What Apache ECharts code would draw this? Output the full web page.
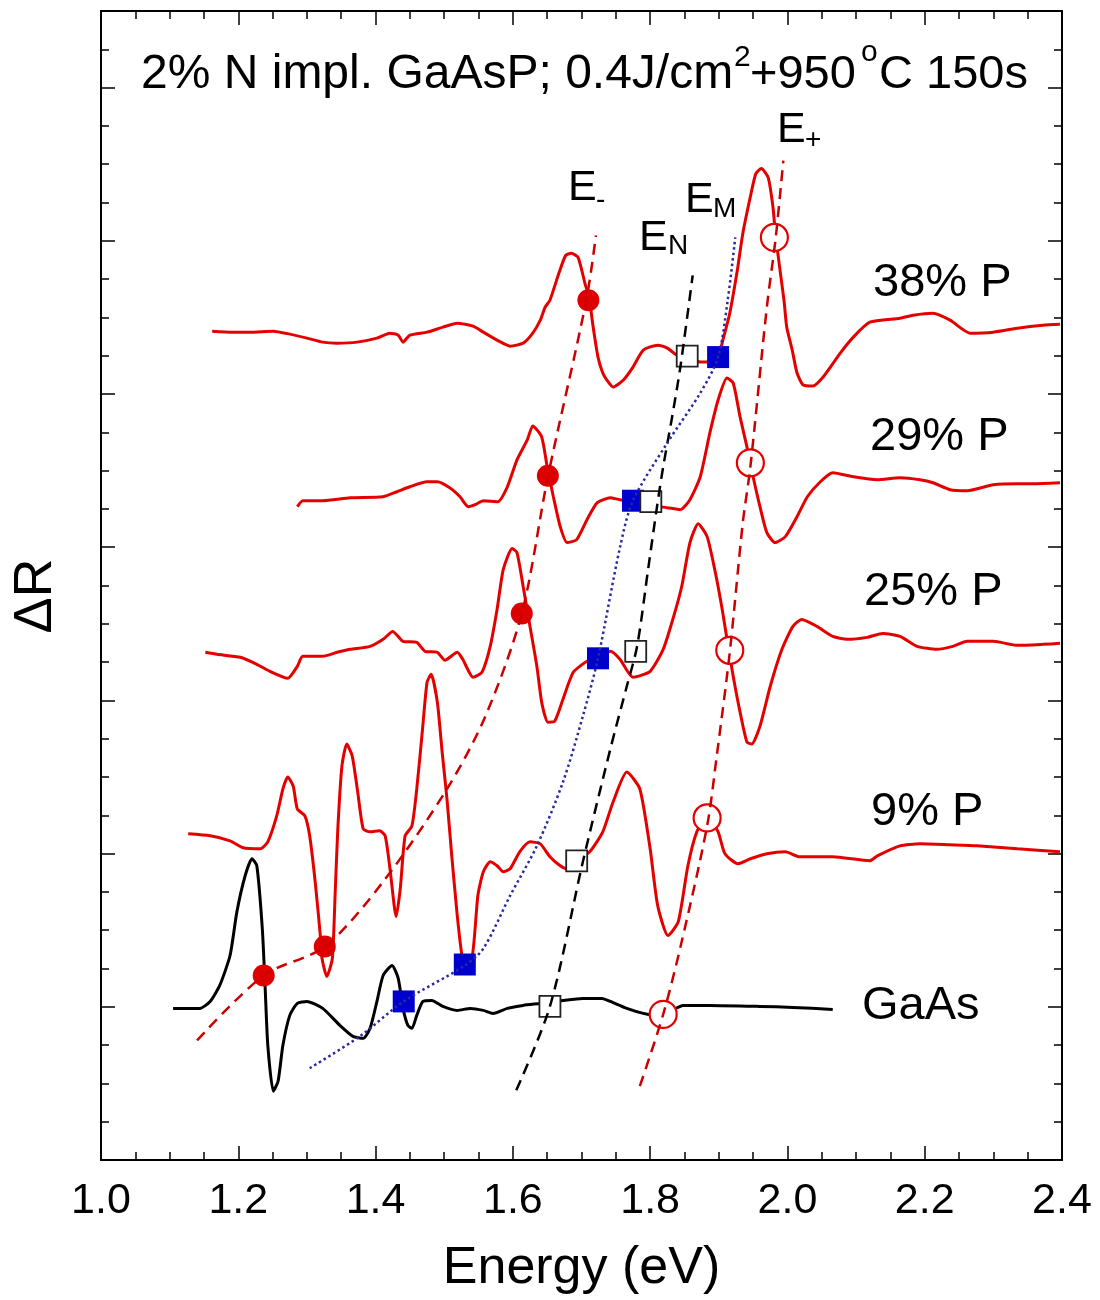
<!DOCTYPE html>
<html><head><meta charset="utf-8">
<script src="https://cdn.jsdelivr.net/npm/echarts@6/dist/echarts.min.js"></script>
<style>html,body{margin:0;padding:0;background:#fff}#c{width:1100px;height:1300px}</style>
</head><body><div id="c"></div>
<script>
const FONT = '"Liberation Sans", Arial, sans-serif';

// Energy (eV) vs ΔR (arbitrary units, curves vertically offset)
const gaas = [[1.105,15.2],[1.144,15.2],[1.159,15.9],[1.173,17.5],[1.188,20.5],[1.198,24.9],[1.210,28.5],[1.220,30.2],[1.227,29.5],[1.235,23.2],[1.239,17.5],[1.243,11.5],[1.251,6.9],[1.258,7.9],[1.265,11.5],[1.275,14.5],[1.286,15.7],[1.300,15.9],[1.323,15.2],[1.348,13.5],[1.367,12.4],[1.382,12.2],[1.392,13.2],[1.402,15.9],[1.411,18.5],[1.424,19.5],[1.433,18.2],[1.440,15.2],[1.447,13.5],[1.453,13.2],[1.460,14.5],[1.469,15.9],[1.482,16.0],[1.498,15.4],[1.519,15.0],[1.538,15.2],[1.557,15.0],[1.571,14.7],[1.592,15.2],[1.615,15.5],[1.640,15.7],[1.673,16.0],[1.702,16.2],[1.730,16.2],[1.742,15.9],[1.766,15.2],[1.790,14.7],[1.810,14.5],[1.829,14.9],[1.848,15.5],[1.887,15.5],[1.960,15.4],[2.008,15.3],[2.066,15.1]];
const p9 = [[1.127,32.7],[1.159,32.5],[1.188,32.0],[1.207,31.3],[1.232,31.2],[1.243,31.9],[1.256,34.5],[1.265,37.2],[1.272,38.4],[1.280,37.5],[1.286,35.2],[1.297,34.5],[1.304,32.5],[1.312,27.9],[1.319,22.9],[1.322,20.2],[1.329,18.4],[1.337,20.2],[1.341,26.5],[1.345,33.2],[1.351,39.5],[1.358,41.7],[1.366,40.5],[1.374,36.9],[1.382,33.2],[1.392,32.9],[1.406,33.0],[1.414,32.5],[1.421,29.2],[1.430,24.4],[1.436,27.2],[1.443,32.5],[1.453,33.5],[1.460,37.2],[1.468,42.9],[1.475,47.9],[1.481,48.7],[1.490,45.9],[1.497,40.9],[1.504,36.2],[1.511,30.5],[1.519,24.5],[1.526,20.4],[1.530,19.6],[1.541,20.5],[1.549,26.5],[1.557,28.9],[1.567,29.9],[1.577,29.5],[1.586,28.9],[1.596,29.2],[1.610,30.9],[1.625,31.9],[1.640,31.7],[1.654,30.4],[1.669,29.5],[1.679,29.2],[1.693,30.0],[1.712,30.9],[1.731,32.9],[1.746,35.9],[1.766,38.9],[1.785,37.2],[1.800,31.2],[1.811,25.5],[1.826,22.5],[1.841,23.9],[1.855,29.5],[1.868,32.9],[1.884,34.4],[1.899,32.9],[1.909,30.7],[1.928,29.7],[1.946,30.2],[1.970,30.7],[1.997,30.9],[2.018,30.4],[2.066,30.4],[2.120,30.0],[2.131,30.5],[2.164,31.5],[2.193,31.7],[2.237,31.6],[2.276,31.5],[2.335,31.2],[2.397,30.9]];
const p25 = [[1.152,50.9],[1.169,50.7],[1.203,50.4],[1.227,49.7],[1.246,49.0],[1.272,48.3],[1.286,49.5],[1.294,50.5],[1.323,50.5],[1.344,50.9],[1.363,51.2],[1.392,51.5],[1.411,52.2],[1.425,53.0],[1.440,52.0],[1.460,51.9],[1.472,51.0],[1.490,50.9],[1.501,50.1],[1.519,50.9],[1.527,50.2],[1.542,48.4],[1.555,48.9],[1.567,51.5],[1.577,55.2],[1.586,59.2],[1.599,61.3],[1.606,60.9],[1.615,57.5],[1.625,53.5],[1.635,49.5],[1.642,45.9],[1.651,43.9],[1.661,44.0],[1.673,46.2],[1.688,48.9],[1.708,50.0],[1.724,50.3],[1.742,51.0],[1.756,50.2],[1.775,48.4],[1.800,49.0],[1.819,51.2],[1.833,54.2],[1.846,57.5],[1.858,61.9],[1.870,63.8],[1.883,62.5],[1.895,58.9],[1.905,55.2],[1.912,52.2],[1.921,48.5],[1.931,44.9],[1.941,41.9],[1.948,41.7],[1.960,43.5],[1.975,47.5],[1.992,51.2],[2.008,53.5],[2.021,54.2],[2.043,53.5],[2.066,52.5],[2.087,52.2],[2.116,52.4],[2.139,52.8],[2.164,52.5],[2.189,51.5],[2.218,51.2],[2.241,51.5],[2.262,52.0],[2.300,52.0],[2.335,51.6],[2.372,51.7],[2.397,51.8]];
const p29 = [[1.286,65.5],[1.294,66.1],[1.323,66.1],[1.363,66.4],[1.411,66.5],[1.431,67.0],[1.450,67.5],[1.475,68.0],[1.490,68.0],[1.508,67.4],[1.523,66.5],[1.535,65.5],[1.545,65.7],[1.557,66.1],[1.578,66.0],[1.592,67.5],[1.606,70.2],[1.621,72.2],[1.629,73.6],[1.642,72.5],[1.650,69.5],[1.659,66.5],[1.669,63.5],[1.679,61.9],[1.693,62.2],[1.708,64.2],[1.723,65.9],[1.742,66.4],[1.756,66.2],[1.775,66.1],[1.793,65.7],[1.825,65.4],[1.844,65.2],[1.858,66.2],[1.873,68.5],[1.887,72.9],[1.899,76.2],[1.912,78.4],[1.921,77.9],[1.931,74.5],[1.941,71.5],[1.950,68.5],[1.960,65.5],[1.970,62.9],[1.982,61.9],[1.997,62.5],[2.014,64.5],[2.029,66.5],[2.048,68.0],[2.066,68.9],[2.096,68.5],[2.131,68.2],[2.164,68.4],[2.193,68.2],[2.212,67.9],[2.237,67.2],[2.262,67.1],[2.300,67.7],[2.335,67.8],[2.358,67.8],[2.397,67.9]];
const p38 = [[1.162,83.1],[1.192,83.0],[1.217,83.0],[1.251,83.1],[1.275,82.8],[1.300,82.4],[1.323,82.0],[1.344,81.9],[1.373,82.0],[1.402,82.4],[1.421,82.9],[1.433,82.7],[1.440,82.0],[1.450,82.7],[1.475,83.0],[1.498,83.5],[1.519,83.9],[1.542,83.6],[1.557,83.0],[1.577,82.2],[1.596,81.6],[1.615,81.9],[1.629,82.9],[1.640,84.2],[1.647,85.5],[1.654,86.2],[1.667,88.9],[1.677,90.7],[1.685,90.9],[1.695,90.5],[1.705,87.9],[1.711,86.5],[1.717,83.5],[1.724,80.5],[1.731,78.9],[1.737,78.2],[1.746,77.5],[1.761,78.2],[1.775,79.5],[1.790,81.2],[1.811,81.7],[1.825,81.4],[1.839,80.7],[1.854,80.6],[1.873,80.0],[1.887,80.0],[1.899,80.5],[1.906,82.2],[1.916,84.9],[1.927,89.2],[1.935,92.9],[1.947,96.9],[1.954,98.9],[1.962,99.4],[1.972,98.5],[1.979,95.5],[1.983,92.5],[1.995,86.2],[1.999,83.5],[2.007,81.2],[2.014,78.9],[2.023,77.7],[2.037,77.6],[2.052,78.5],[2.077,80.9],[2.096,82.5],[2.120,84.0],[2.164,84.4],[2.183,84.7],[2.212,84.9],[2.237,84.2],[2.266,82.9],[2.300,83.0],[2.335,83.4],[2.372,83.7],[2.397,83.8]];

// transition energies (markers)
const eMinusPts = [[1.237,18.5],[1.326,21.4],[1.613,54.8],[1.651,68.6],[1.710,86.2]];
const eMPts = [[1.441,15.9],[1.530,19.6],[1.724,50.3],[1.775,66.1],[1.899,80.5]];
const eNPts = [[1.654,15.4],[1.693,30.0],[1.779,51.0],[1.801,66.0],[1.854,80.6]];
const ePlusPts = [[1.819,14.6],[1.883,34.3],[1.916,51.1],[1.946,69.9],[1.981,92.5]];

// guide lines
const eMinusFit = [[1.140,12.0],[1.237,18.5],[1.326,21.4],[1.411,27.9],[1.504,37.2],[1.560,44.5],[1.613,54.8],[1.651,68.5],[1.707,86.2],[1.721,92.7]];
const eNFit = [[1.605,7.0],[1.654,15.4],[1.702,29.9],[1.742,41.2],[1.766,47.5],[1.781,51.5],[1.797,59.2],[1.810,65.5],[1.819,69.5],[1.832,74.5],[1.844,79.5],[1.862,88.7]];
const eMFit = [[1.304,9.2],[1.377,12.4],[1.441,15.9],[1.530,19.5],[1.557,21.2],[1.596,26.5],[1.635,31.5],[1.673,37.9],[1.702,44.5],[1.724,50.3],[1.756,61.4],[1.775,66.1],[1.825,71.9],[1.873,76.9],[1.899,80.5],[1.913,86.2],[1.924,92.5]];
const ePlusFit = [[1.785,7.4],[1.819,14.6],[1.846,21.9],[1.883,33.5],[1.897,40.5],[1.916,50.9],[1.935,63.9],[1.946,69.5],[1.970,85.5],[1.983,92.5],[1.994,100.2]];

const curveNames = ['GaAs','9% P','25% P','29% P','38% P'];
const xMin = 1.0, xMax = 2.4, xStep = 0.2;
const yMin = 0, yMax = 115.2, yMajor = 15.36, yMinor = 3.84;

const RED = '#e50000', DRED = '#cc0000', BLUE = '#0000cc', DBLUE = '#2a2aa0';

const chart = echarts.init(document.getElementById('c'), null, {renderer:'canvas'});

function xAx(pos, showLabel) {
  return {
    type:'value', min:xMin, max:xMax, interval:xStep, position:pos,
    axisLine:{onZero:false, lineStyle:{color:'#000', width:2}},
    axisTick:{inside:true, length:14, lineStyle:{color:'#000', width:1.5}},
    minorTick:{show:true, splitNumber:4, length:8, lineStyle:{color:'#000', width:1.5}},
    splitLine:{show:false}, minorSplitLine:{show:false},
    axisLabel:{show:showLabel, fontSize:43, fontFamily:FONT, color:'#000', margin:20,
      formatter:v=>v.toFixed(1)},
    name: showLabel ? 'Energy (eV)' : '', nameLocation:'middle', nameGap:83,
    nameTextStyle:{fontSize:52, fontFamily:FONT, color:'#000'}
  };
}
function yAx(pos, step, len) {
  return {
    type:'value', min:yMin, max:yMax, interval:step, position:pos,
    axisLine:{onZero:false, lineStyle:{color:'#000', width:2}},
    axisTick:{inside:true, length:len, lineStyle:{color:'#000', width:1.5}},
    axisLabel:{show:false}, splitLine:{show:false}
  };
}

function curve(data, color) {
  return {type:'line', data, xAxisIndex:0, yAxisIndex:0, showSymbol:false, symbol:'none', smooth:0.2,
    lineStyle:{color, width:3}, z:2, animation:false, silent:true};
}
function fit(data, color, dash, width) {
  return {type:'line', data, xAxisIndex:0, yAxisIndex:0, showSymbol:false, symbol:'none', smooth:0.3,
    lineStyle:{color, width, type:dash}, z:5, animation:false, silent:true};
}
function marks(data, symbol, size, style) {
  return {type:'scatter', data, symbol, symbolSize:size, itemStyle:Object.assign({opacity:1}, style),
    z:3, animation:false, silent:true};
}

const txt = (text, x, y, size, extra) => ({type:'text', x, y, z:10,
  style:Object.assign({text, font:size+'px '+FONT, fontSize:size, fontFamily:FONT, fill:'#000',
    align:'left', verticalAlign:'middle'}, extra||{})});

const option = {
  backgroundColor:'#fff',
  animation:false,
  grid:{left:101, right:38, top:11, bottom:138, containLabel:false},
  xAxis:[xAx('bottom', true), xAx('top', false)],
  yAxis:[yAx('left', yMajor, 14), yAx('left', yMinor, 8), yAx('right', yMajor, 14), yAx('right', yMinor, 8)],
  series:[
    curve(gaas, '#000'), curve(p9, RED), curve(p25, RED), curve(p29, RED), curve(p38, RED),
    marks(eMinusPts, 'circle', 22, {color:'#dd0000'}),
    marks(eMPts, 'rect', 22, {color:BLUE}),
    marks(eNPts, 'rect', 21, {color:'#fff', borderColor:'#222', borderWidth:1.8}),
    marks(ePlusPts, 'circle', 27, {color:'#fff', borderColor:RED, borderWidth:2.2}),
    fit(eMinusFit, DRED, [11,7], 2.5),
    fit(eNFit, '#000', [11,7], 2.5),
    fit(eMFit, DBLUE, [2.5,3], 2.5),
    fit(ePlusFit, DRED, [11,7], 2.5)
  ],
  graphic:[
    txt('2% N impl. GaAsP; 0.4J/cm', 141, 75, 48),
    txt('2', 734, 58, 30),
    txt('+950', 750, 75, 47),
    txt('o', 861, 53, 30),
    txt('C 150s', 879, 75, 47),
    txt(curveNames[4], 873, 283, 47),
    txt(curveNames[3], 870, 437, 47),
    txt(curveNames[2], 864, 592, 47),
    txt(curveNames[1], 871, 812, 47),
    txt(curveNames[0], 862, 1006, 47),
    txt('E', 568, 188, 43), txt('-', 596, 200, 28),
    txt('E', 639, 238, 43), txt('N', 668, 246, 28),
    txt('E', 685, 200, 43), txt('M', 713, 209, 28),
    txt('E', 777, 130, 43), txt('+', 805, 140, 28),
    {type:'text', x:36, y:596, rotation:Math.PI/2, z:10,
      style:{text:'ΔR', font:'54px '+FONT, fontSize:54, fontFamily:FONT, fill:'#000', align:'center', verticalAlign:'middle'}}
  ]
};
chart.setOption(option);
</script>
</body></html>
